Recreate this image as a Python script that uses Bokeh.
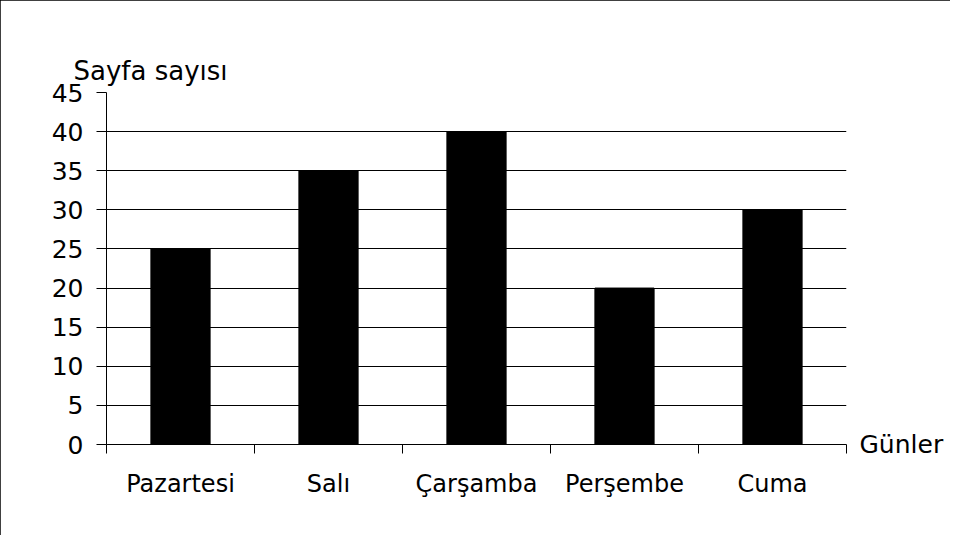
from bokeh.plotting import figure
from bokeh.models import ColumnDataSource, FixedTicker, Range1d, LinearAxis
from bokeh.embed import file_html
from bokeh.resources import INLINE

days = ["Pazartesi", "Salı", "Çarşamba", "Perşembe", "Cuma"]
pages = [25, 35, 40, 20, 30]
y_ticks = [0, 5, 10, 15, 20, 25, 30, 35, 40, 45]
y_label = "Sayfa sayısı"
x_label = "Günler"

FONT = "DejaVu Sans"

xs = [i + 0.5 for i in range(len(days))]
src = ColumnDataSource(dict(x=xs, top=pages, day=days))

p = figure(width=950, height=535, output_backend="svg", toolbar_location=None,
           x_range=Range1d(0, len(days)), y_range=Range1d(0, max(y_ticks)),
           min_border_left=106, min_border_right=104, min_border_top=92, min_border_bottom=91)
p.styles = {"outline": "2px solid #000", "outline-offset": "-2px"}
p.outline_line_color = None
p.background_fill_color = "white"
p.border_fill_color = "white"

# y-axis caption as a left-aligned title just above the frame
p.title.text = y_label
p.title.align = "left"
p.title.offset = -33
p.title.standoff = 13
p.title.text_font = FONT
p.title.text_font_size = "26px"
p.title.text_font_style = "normal"
p.title.text_color = "black"

p.vbar(x="x", top="top", bottom=0, width=0.4, source=src,
       fill_color="black", line_color="black")

p.xgrid.visible = False
p.ygrid.ticker = FixedTicker(ticks=y_ticks)
p.ygrid.grid_line_color = "black"
p.ygrid.grid_line_width = 1
p.ygrid.grid_line_alpha = 1

ya = p.yaxis[0]
ya.ticker = FixedTicker(ticks=y_ticks)
ya.axis_line_color = "black"
ya.major_tick_line_color = "black"
ya.major_tick_out = 10
ya.major_tick_in = 0
ya.minor_tick_line_color = None
ya.major_label_text_font = FONT
ya.major_label_text_font_size = "25px"
ya.major_label_text_color = "black"
ya.major_label_standoff = 13

xa = p.xaxis[0]
xa.ticker = FixedTicker(ticks=xs, minor_ticks=list(range(len(days) + 1)))
xa.major_label_overrides = {x: d for x, d in zip(xs, days)}
xa.axis_line_color = "black"
xa.major_tick_line_color = None
xa.major_tick_out = 0
xa.major_tick_in = 0
xa.minor_tick_line_color = "black"
xa.minor_tick_out = 9
xa.minor_tick_in = 0
xa.major_label_text_font = FONT
xa.major_label_text_font_size = "24px"
xa.major_label_text_color = "black"
xa.major_label_standoff = 16

# x-axis caption placed at the end of the x axis (right side, at y = 0)
ra = LinearAxis(ticker=FixedTicker(ticks=[0]), major_label_overrides={0: x_label})
ra.axis_line_color = None
ra.major_tick_line_color = None
ra.minor_tick_line_color = None
ra.major_tick_out = 0
ra.major_tick_in = 0
ra.major_label_standoff = 13
ra.major_label_text_font = FONT
ra.major_label_text_font_size = "25px"
ra.major_label_text_color = "black"
p.add_layout(ra, "right")

open("out.html", "w").write(file_html(p, INLINE))
